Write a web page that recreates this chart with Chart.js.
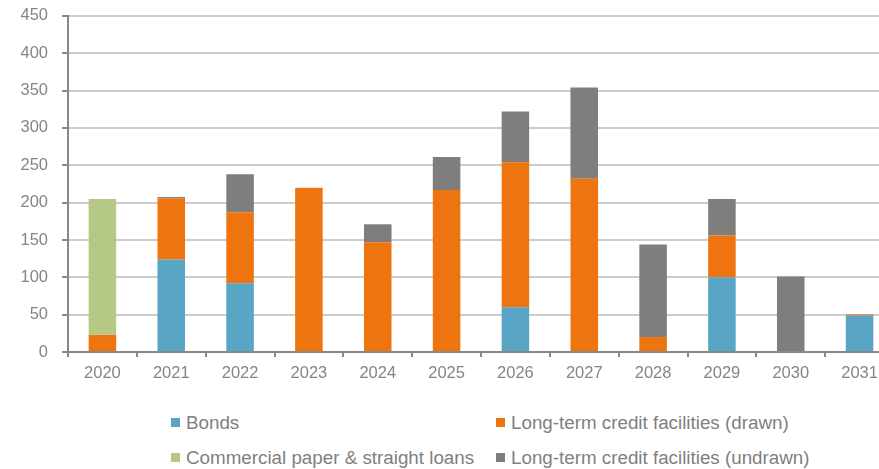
<!DOCTYPE html>
<html>
<head>
<meta charset="utf-8">
<title>Maturity profile</title>
<script src="https://cdn.jsdelivr.net/npm/chart.js"></script>
<style>
    body { margin: 0; overflow: hidden; background: #fff; font-family: "Liberation Sans", Arial, sans-serif; }
    #wrap { position: relative; width: 879px; height: 469px; overflow: hidden; }
    #chart { position: absolute; left: 0; top: -8px; }
    #legend { position: absolute; left: 171px; top: 411px; display: grid; grid-template-columns: 325px auto; row-gap: 12px; font-size: 18.8px; line-height: 23px; color: #808080; }
    .item { display: flex; align-items: center; white-space: nowrap; }
    .box { flex: 0 0 auto; width: 9px; height: 9px; margin-right: 6px; }
</style>
</head>
<body>
<div id="wrap">
    <canvas id="chart" width="894" height="403"></canvas>
    <div id="legend"></div>
</div>
<script>
    // values
    const years = ['2020', '2021', '2022', '2023', '2024', '2025', '2026', '2027', '2028', '2029', '2030', '2031'];
    const bonds = [0, 124, 92, 0, 0, 0, 60, 0, 0, 100, 0, 49];
    const ltDrawn = [23, 82, 95, 220, 147, 217, 194, 232, 20, 56, 0, 1.5];
    const cpLoans = [182, 0, 0, 0, 0, 0, 0, 0, 0, 0, 0, 0];
    const ltUndrawn = [0, 1.5, 51, 0, 24, 44, 68, 122, 124, 49, 101, 0];
    const yTicks = [0, 50, 100, 150, 200, 250, 300, 350, 400, 450];

    const font = { family: '"Liberation Sans", Arial, sans-serif', size: 16.5 };
    const textColor = '#858585';
    const axisColor = '#888888';

    const ctx = document.getElementById('chart').getContext('2d');
    const chart = new Chart(ctx, {
        type: 'bar',
        data: {
            labels: years,
            datasets: [
                { label: 'Bonds', data: bonds, backgroundColor: '#59A5C5' },
                { label: 'Long-term credit facilities (drawn)', data: ltDrawn, backgroundColor: '#ED740E' },
                { label: 'Commercial paper & straight loans', data: cpLoans, backgroundColor: '#B5C985' },
                { label: 'Long-term credit facilities (undrawn)', data: ltUndrawn, backgroundColor: '#7F7E7C' }
            ]
        },
        options: {
            responsive: false,
            animation: false,
            devicePixelRatio: 1,
            layout: { padding: { top: 0, right: 0, left: 0, bottom: 0 } },
            datasets: { bar: { barPercentage: 1, categoryPercentage: 0.4 } },
            plugins: { legend: { display: false }, tooltip: { enabled: false } },
            scales: {
                x: {
                    stacked: true,
                    offset: true,
                    grid: { offset: true, drawOnChartArea: false, tickLength: 5, color: axisColor, lineWidth: 2 },
                    border: { color: axisColor, width: 2 },
                    ticks: { color: textColor, font: font, padding: 7, maxRotation: 0 },
                    afterFit: s => { s.height = 43; }
                },
                y: {
                    stacked: true,
                    min: 0,
                    max: 450,
                    afterBuildTicks: s => { s.ticks = yTicks.map(v => ({ value: v })); },
                    grid: { color: '#cccccc', lineWidth: 2, tickColor: axisColor, tickLength: 6 },
                    border: { color: axisColor, width: 2 },
                    ticks: { color: textColor, font: font, padding: 14 },
                    afterFit: s => { s.width = 68; }
                }
            }
        }
    });

    // two-column legend under the plot
    const legend = document.getElementById('legend');
    chart.data.datasets.forEach(ds => {
        const item = document.createElement('div');
        item.className = 'item';
        const box = document.createElement('span');
        box.className = 'box';
        box.style.background = ds.backgroundColor;
        item.appendChild(box);
        item.appendChild(document.createTextNode(ds.label));
        legend.appendChild(item);
    });
</script>
</body>
</html>
